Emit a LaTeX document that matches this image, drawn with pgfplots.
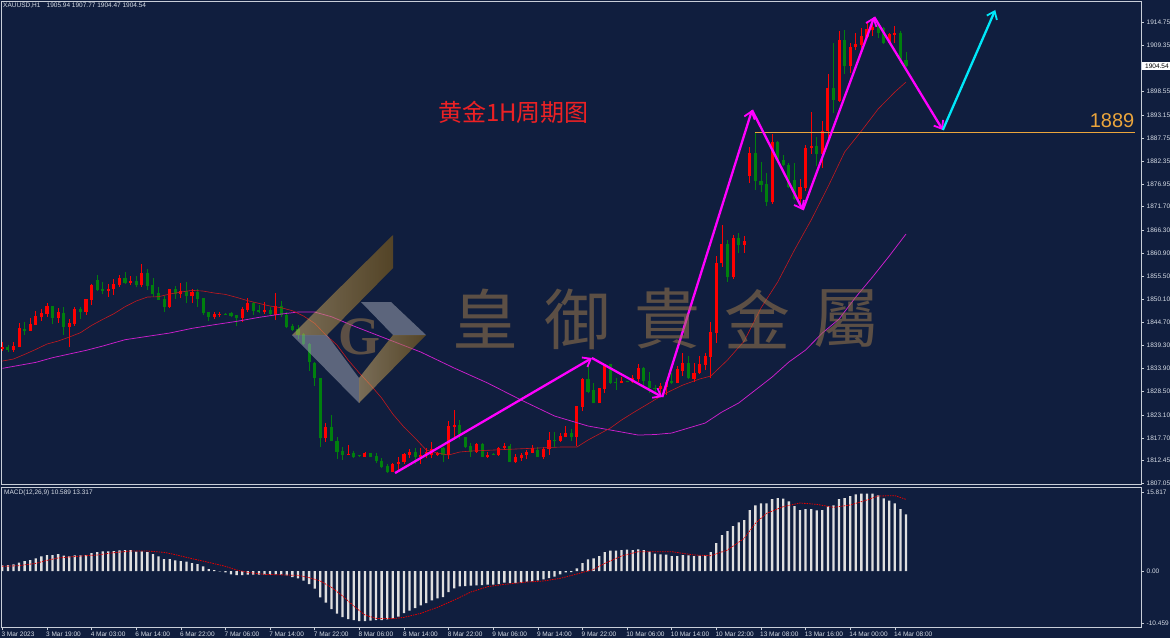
\documentclass[border=0pt]{standalone}
\usepackage{fontspec}
\usepackage{pgfplots}
\usepackage{pgfplotstable}
\pgfplotsset{compat=1.18}
\usetikzlibrary{arrows.meta}
\setmainfont{Liberation Sans}
\newfontfamily\cjksc{Noto Sans CJK SC}
\newfontfamily\cjktc{Noto Sans CJK TC}
\newfontfamily\serifb{Liberation Serif}
\definecolor{bgnavy}{RGB}{16,30,62}
\definecolor{frameg}{RGB}{200,206,216}
\definecolor{txtg}{RGB}{214,220,230}
\definecolor{upc}{RGB}{255,0,0}
\definecolor{dnc}{RGB}{0,128,14}
\definecolor{maR}{RGB}{196,24,30}
\definecolor{maP}{RGB}{205,30,205}
\definecolor{arrM}{RGB}{255,0,255}
\definecolor{arrC}{RGB}{0,232,250}
\definecolor{lev}{RGB}{235,165,60}
\definecolor{wmt}{RGB}{155,121,75}
\definecolor{wmb}{RGB}{155,161,175}
\definecolor{wmg1}{RGB}{209,175,109}
\definecolor{wmg2}{RGB}{140,100,20}
\pgfplotstableread{
i h l o c
0 1840.18 1838.08 1838.47 1838.94
2 1840.03 1837.85 1838.24 1839.09
3 1844.47 1838.86 1838.86 1843.30
5 1845.63 1842.67 1842.67 1844.31
6 1847.34 1844.07 1844.07 1846.18
7 1847.81 1845.01 1845.94 1846.88
8 1849.29 1846.02 1846.57 1848.51
10 1847.97 1844.62 1845.71 1847.11
12 1845.40 1838.86 1843.61 1844.54
13 1848.36 1843.84 1844.31 1847.81
15 1850.14 1846.41 1847.19 1850.14
16 1853.65 1848.74 1849.91 1853.41
19 1853.65 1850.69 1852.01 1852.48
20 1854.74 1851.08 1852.40 1853.65
21 1855.75 1853.02 1853.41 1855.05
23 1855.52 1853.41 1853.96 1854.35
25 1858.32 1853.02 1853.41 1856.21
30 1852.48 1847.97 1848.28 1852.48
32 1853.88 1850.30 1851.31 1851.94
34 1852.48 1849.29 1850.85 1851.78
38 1847.19 1845.55 1845.94 1846.64
39 1847.19 1845.87 1846.41 1846.64
43 1848.36 1844.85 1845.71 1847.73
44 1850.46 1847.19 1847.58 1849.13
47 1849.52 1846.64 1847.11 1847.58
49 1851.62 1845.24 1846.41 1848.51
58 1821.12 1816.84 1817.62 1820.18
62 1816.06 1813.64 1813.72 1813.96
65 1814.50 1813.18 1813.33 1814.19
70 1811.93 1809.83 1809.83 1811.70
71 1813.18 1810.06 1811.62 1812.17
72 1814.11 1811.62 1812.09 1813.96
73 1815.12 1812.94 1813.80 1814.34
75 1815.28 1811.62 1813.18 1813.80
76 1815.28 1812.94 1813.72 1814.34
77 1816.76 1812.94 1813.80 1815.05
78 1814.50 1813.49 1813.72 1814.11
80 1821.66 1812.71 1813.64 1820.49
81 1824.23 1817.22 1820.26 1820.65
85 1816.60 1814.27 1814.42 1816.37
87 1814.50 1813.10 1813.26 1813.80
89 1815.67 1813.57 1813.72 1815.28
90 1816.45 1814.89 1815.28 1815.82
92 1813.96 1811.85 1812.17 1813.18
93 1814.11 1812.40 1812.94 1813.72
94 1814.89 1812.71 1813.64 1814.42
95 1816.06 1814.11 1814.27 1815.28
97 1815.67 1812.71 1813.18 1815.20
98 1819.17 1813.72 1815.20 1817.22
100 1818.78 1816.76 1816.99 1818.16
101 1820.49 1817.85 1818.00 1818.78
103 1825.24 1815.82 1818.00 1825.24
104 1831.62 1823.92 1825.01 1831.46
107 1829.44 1825.78 1825.78 1829.29
108 1834.97 1828.12 1829.13 1834.97
111 1832.01 1830.45 1830.45 1831.00
113 1832.40 1830.46 1830.69 1831.63
114 1834.97 1830.85 1831.39 1834.04
118 1830.46 1827.73 1829.06 1829.84
119 1831.24 1827.73 1829.68 1830.85
121 1834.50 1830.46 1830.61 1833.73
122 1837.46 1832.17 1833.34 1835.13
124 1835.13 1830.85 1831.55 1832.87
125 1836.92 1832.64 1832.79 1834.97
126 1837.46 1833.57 1834.82 1836.84
127 1844.86 1831.63 1836.68 1842.44
128 1860.19 1839.95 1842.29 1858.47
129 1867.42 1857.70 1858.47 1862.99
131 1865.09 1854.82 1855.21 1864.31
133 1864.86 1860.96 1862.83 1863.77
134 1885.72 1877.31 1878.87 1884.32
138 1888.68 1872.33 1872.80 1886.81
143 1878.09 1871.56 1873.42 1876.23
144 1886.11 1875.45 1876.07 1885.41
145 1893.89 1884.01 1885.41 1885.88
147 1891.79 1880.82 1884.01 1889.45
148 1902.68 1886.89 1889.45 1899.34
150 1912.72 1896.22 1896.46 1910.62
152 1909.84 1903.00 1904.63 1909.07
153 1912.18 1908.29 1908.91 1909.69
154 1913.35 1908.68 1909.45 1911.56
155 1914.51 1911.01 1911.40 1913.19
156 1915.29 1911.56 1912.96 1913.73
159 1912.18 1909.69 1909.84 1912.02
160 1913.97 1909.84 1911.87 1912.33
}\redc
\pgfplotstableread{
i h l o c
1 1839.41 1837.85 1838.94 1838.24
4 1844.70 1841.74 1843.14 1842.67
9 1848.59 1844.31 1848.51 1845.71
11 1848.20 1841.74 1846.88 1843.61
14 1848.20 1845.48 1847.81 1847.11
17 1855.75 1852.01 1854.66 1852.25
18 1854.11 1851.23 1852.48 1852.09
22 1856.37 1853.57 1855.05 1853.88
24 1855.52 1852.87 1854.35 1853.34
26 1857.15 1852.25 1856.21 1853.18
27 1854.97 1850.69 1853.41 1851.23
28 1853.02 1849.91 1851.47 1849.91
29 1850.85 1847.19 1850.14 1848.28
31 1853.10 1850.14 1852.48 1851.31
33 1854.04 1849.13 1852.01 1850.85
35 1852.40 1848.36 1851.78 1850.14
36 1850.46 1846.41 1850.30 1846.88
37 1847.19 1844.93 1847.11 1845.94
40 1846.80 1846.41 1846.72 1846.41
41 1847.03 1845.87 1846.88 1846.18
42 1846.41 1843.92 1846.41 1845.63
45 1849.52 1846.41 1849.13 1847.34
46 1848.74 1846.80 1847.58 1847.11
48 1848.36 1846.41 1847.58 1846.64
50 1849.60 1845.87 1848.43 1846.41
51 1847.19 1843.30 1846.41 1843.61
52 1844.23 1842.67 1843.84 1842.91
53 1844.07 1840.73 1843.06 1841.74
54 1842.13 1839.41 1841.97 1839.64
55 1839.80 1833.41 1839.64 1835.44
56 1835.51 1829.83 1835.28 1831.62
57 1831.70 1815.67 1831.70 1817.62
59 1823.06 1817.07 1820.18 1817.07
60 1818.00 1812.79 1817.07 1814.50
61 1815.67 1812.55 1814.66 1813.72
63 1814.66 1813.10 1814.19 1813.18
64 1813.80 1813.33 1813.72 1813.41
66 1814.27 1813.18 1814.19 1813.33
67 1814.11 1811.78 1813.41 1812.24
68 1813.10 1810.61 1812.32 1810.92
69 1811.54 1809.60 1811.08 1809.75
74 1815.28 1811.62 1814.42 1813.18
79 1815.67 1812.17 1815.28 1813.72
82 1821.89 1817.38 1820.73 1818.39
83 1818.00 1815.28 1817.92 1815.51
84 1816.45 1813.33 1815.82 1814.42
86 1816.45 1813.18 1816.37 1813.33
88 1814.11 1813.72 1813.88 1813.72
91 1816.29 1812.09 1815.82 1812.17
96 1815.67 1813.18 1814.97 1813.33
99 1819.01 1815.67 1817.22 1816.91
102 1819.71 1816.99 1818.78 1817.92
105 1835.12 1828.12 1831.39 1828.51
106 1830.45 1825.78 1828.82 1825.78
109 1834.97 1830.30 1834.97 1830.45
110 1831.62 1828.90 1830.84 1830.76
112 1831.08 1830.69 1831.00 1830.84
115 1834.35 1830.07 1834.04 1830.93
116 1833.18 1828.12 1831.00 1829.29
117 1830.07 1828.51 1829.29 1829.06
120 1832.79 1830.23 1831.08 1830.61
123 1836.92 1831.47 1835.13 1831.63
130 1863.92 1854.19 1862.99 1855.36
132 1865.48 1860.81 1864.31 1862.75
135 1889.22 1875.60 1884.32 1877.70
136 1882.06 1875.06 1877.70 1876.85
137 1879.65 1871.94 1877.00 1872.80
139 1886.96 1881.83 1886.81 1882.45
140 1883.77 1881.28 1882.53 1881.44
141 1881.83 1875.99 1881.44 1876.38
142 1881.98 1873.27 1877.94 1873.42
146 1888.05 1881.28 1885.95 1884.01
149 1909.84 1893.50 1899.34 1896.61
151 1912.96 1902.68 1910.62 1904.63
157 1914.36 1911.01 1914.12 1912.18
158 1913.73 1909.69 1913.42 1909.84
161 1912.72 1905.17 1912.33 1905.80
162 1907.90 1904.40 1905.95 1904.54
}\greenc
\pgfplotsset{
  wick/.style={draw=none,mark=none,forget plot,error bars/.cd,y dir=plus,y explicit,error mark=none,error bar style={draw=#1,line width=0.8pt,color=#1}},
  body/.style={draw=none,mark=none,forget plot,error bars/.cd,y dir=plus,y explicit,error mark=none,error bar style={draw=#1,line width=3.1pt,color=#1}},
  panel/.style={scale only axis,xmin=-0.238,xmax=204.13,axis line style={draw=frameg,line width=0.8pt},
    tick style={color=frameg,line width=0.6pt},tick align=outside,major tick length=3pt,
    ytick pos=right,yticklabel pos=right,
    yticklabel style={font=\fontsize{6.5}{7}\selectfont,color=txtg,inner sep=0pt,anchor=west,xshift=2.5pt},
    xticklabel style={font=\fontsize{6.5}{7}\selectfont,color=txtg,inner sep=0pt}},
}
\begin{document}
\begin{tikzpicture}[x=1pt,y=1pt]
\path[use as bounding box] (0,0) rectangle (1170,-638);
\clip (0,0) rectangle (1170,-638);
\fill[bgnavy] (0,0) rectangle (1170,-638);
\begin{axis}[panel,at={(1pt,-484pt)},anchor=south west,width=1140pt,height=483pt,
  ymin=1806.96,ymax=1919.73,xtick=\empty,
  ytick={1807.05,1812.45,1817.70,1823.10,1828.50,1833.90,1839.30,1844.70,1850.10,1855.50,1860.90,1866.30,1871.70,1876.95,1882.35,1887.75,1893.15,1898.55,1903.95,1909.35,1914.75},
  yticklabels={1807.05,1812.45,1817.70,1823.10,1828.50,1833.90,1839.30,1844.70,1850.10,1855.50,1860.90,1866.30,1871.70,1876.95,1882.35,1887.75,1893.15,1898.55,,1909.35,1914.75}]
\addplot[wick=upc] table[x=i,y=l,y error expr=\thisrow{h}-\thisrow{l}]{\redc};
\addplot[wick=dnc] table[x=i,y=l,y error expr=\thisrow{h}-\thisrow{l}]{\greenc};
\addplot[body=upc] table[x=i,y=o,y error expr=\thisrow{c}-\thisrow{o}]{\redc};
\addplot[body=dnc] table[x=i,y=c,y error expr=\thisrow{o}-\thisrow{c}]{\greenc};
% purple moving average
\addplot[maP,line width=0.75pt] coordinates {(0,1833.96)(3,1834.66)(6,1835.36)(9,1836.45)(12,1837.31)(15,1838.16)(18,1839.17)(22,1840.65)(26,1841.43)(30,1842.21)(34,1843.30)(38,1844.15)(42,1844.93)(46,1845.87)(50,1846.64)(53,1847.11)(56,1847.11)(59,1846.02)(63,1843.84)(69,1840.81)(75,1837.78)(81,1834.04)(87,1830.54)(93,1826.57)(99,1822.83)(105,1820.50)(111,1819.10)(114,1818.39)(117,1818.51)(120,1818.86)(123,1820.03)(126,1821.20)(129,1823.77)(132,1825.87)(135,1828.90)(138,1831.94)(141,1835.44)(144,1838.24)(147,1842.21)(150,1845.48)(153,1850.62)(156,1855.29)(159,1860.19)(162,1865.33)};
% red moving average
\addplot[maR,line width=0.6pt] coordinates {(0,1835.67)(2,1836.14)(4,1837.23)(6,1838.39)(8,1839.64)(10,1840.34)(12,1841.27)(14,1842.29)(16,1843.99)(18,1845.40)(20,1846.72)(22,1848.36)(24,1849.68)(26,1850.61)(28,1850.69)(30,1851.31)(32,1851.78)(34,1852.17)(36,1852.01)(38,1851.55)(40,1851.23)(42,1850.53)(44,1849.76)(46,1849.13)(48,1848.51)(50,1848.12)(52,1847.42)(54,1846.18)(56,1844.47)(58,1841.74)(60,1839.41)(62,1835.91)(64,1832.87)(66,1830.07)(68,1827.04)(70,1823.30)(72,1820.26)(74,1817.69)(76,1814.89)(78,1814.19)(80,1813.73)(82,1814.43)(84,1814.66)(88,1814.89)(92,1815.13)(96,1815.36)(100,1815.59)(103,1815.59)(105,1817.23)(107,1818.63)(109,1820.03)(111,1821.90)(113,1823.53)(116,1825.87)(119,1828.20)(122,1830.07)(125,1831.47)(127,1832.17)(130,1835.91)(133,1840.34)(136,1848.05)(139,1854.12)(142,1861.59)(145,1868.60)(148,1876.30)(151,1884.47)(154,1889.37)(157,1894.51)(160,1898.48)(162,1900.81)};
% level
\addplot[lev,line width=1pt] coordinates {(134.9,1889.14)(203.1,1889.14)};
% arrows
\addplot[arrM,line width=2.3pt,-{Straight Barb[length=7pt,width=11pt,line width=1.8pt]}] coordinates {(70.4,1809.52)(105.7,1836.38)};
\addplot[arrM,line width=2.3pt,-{Straight Barb[length=7pt,width=11pt,line width=1.8pt]}] coordinates {(105.7,1836.38)(118.3,1827.27)};
\addplot[arrM,line width=2.3pt,-{Straight Barb[length=7pt,width=11pt,line width=1.8pt]}] coordinates {(118.3,1827.27)(134.4,1894.28)};
\addplot[arrM,line width=2.3pt,-{Straight Barb[length=7pt,width=11pt,line width=1.8pt]}] coordinates {(134.4,1894.28)(143.5,1870.93)};
\addplot[arrM,line width=2.3pt,-{Straight Barb[length=7pt,width=11pt,line width=1.8pt]}] coordinates {(143.5,1870.93)(156.3,1915.99)};
\addplot[arrM,line width=2.3pt,-{Straight Barb[length=7pt,width=11pt,line width=1.8pt]}] coordinates {(156.3,1915.99)(168.6,1889.61)};
\addplot[arrC,line width=2.3pt,-{Straight Barb[length=7pt,width=11pt,line width=1.8pt]}] coordinates {(168.6,1889.61)(178,1917.63)};
\end{axis}
\begin{axis}[panel,at={(1pt,-627.3pt)},anchor=south west,width=1140pt,height=140.3pt,
  ymin=-11.26,ymax=16.8,ytick={-10.459,0,15.817},yticklabels={-10.459,0.00,15.817},
  xtick pos=bottom,xtick={0,8,...,160},
  xticklabel style={anchor=north west,xshift=-1pt,yshift=-1pt},
  xticklabels={3 Mar 2023,3 Mar 19:00,4 Mar 03:00,6 Mar 14:00,6 Mar 22:00,7 Mar 06:00,7 Mar 14:00,7 Mar 22:00,8 Mar 06:00,8 Mar 14:00,8 Mar 22:00,9 Mar 06:00,9 Mar 14:00,9 Mar 22:00,10 Mar 06:00,10 Mar 14:00,10 Mar 22:00,13 Mar 08:00,13 Mar 16:00,14 Mar 00:00,14 Mar 08:00}]
\addplot[ybar,bar width=2.3pt,bar shift=0pt,fill=white!87!black,draw=none] coordinates {(0,1.13)(1,1.2)(2,1.33)(3,1.67)(4,2.0)(5,2.2)(6,2.53)(7,2.93)(8,3.2)(9,3.2)(10,3.4)(11,3.07)(12,2.93)(13,3.13)(14,3.13)(15,3.2)(16,3.6)(17,3.8)(18,3.93)(19,3.93)(20,4.0)(21,4.13)(22,4.2)(23,4.2)(24,3.87)(25,3.93)(26,3.8)(27,3.4)(28,2.93)(29,2.4)(30,2.4)(31,2.13)(32,2.0)(33,1.87)(34,1.6)(35,1.4)(36,.93)(37,.4)(38,.2)(39,-.07)(40,-.27)(41,-.67)(42,-.8)(43,-.8)(44,-.73)(45,-.73)(46,-.73)(47,-.73)(48,-.73)(49,-.67)(50,-.73)(51,-.87)(52,-1.2)(53,-1.47)(54,-1.93)(55,-2.6)(56,-3.53)(57,-5.27)(58,-6.33)(59,-7.6)(60,-8.53)(61,-9.2)(62,-9.6)(63,-9.8)(64,-10.0)(65,-10.0)(66,-9.93)(67,-9.8)(68,-9.8)(69,-9.67)(70,-9.47)(71,-9.13)(72,-8.4)(73,-7.93)(74,-7.4)(75,-6.87)(76,-6.4)(77,-5.87)(78,-5.47)(79,-5.2)(80,-4.2)(81,-3.47)(82,-3.07)(83,-3.0)(84,-2.93)(85,-2.87)(86,-2.8)(87,-2.73)(88,-2.73)(89,-2.6)(90,-2.33)(91,-2.4)(92,-2.4)(93,-2.33)(94,-2.13)(95,-2.07)(96,-1.87)(97,-1.67)(98,-1.4)(99,-1.13)(100,-.67)(101,-.27)(102,-.2)(103,.53)(104,1.6)(105,2.33)(106,2.53)(107,3.0)(108,3.8)(109,4.07)(110,4.07)(111,4.2)(112,4.27)(113,4.2)(114,4.33)(115,4.2)(116,3.87)(117,3.47)(118,3.33)(119,3.27)(120,3.0)(121,3.0)(122,3.2)(123,3.13)(124,3.0)(125,3.07)(126,3.2)(127,3.8)(128,5.6)(129,7.2)(130,8.0)(131,9.0)(132,9.73)(133,10.2)(134,12.2)(135,13.13)(136,13.53)(137,13.53)(138,14.4)(139,14.6)(140,14.47)(141,13.93)(142,13.0)(143,12.2)(144,12.4)(145,12.4)(146,12.13)(147,12.2)(148,12.93)(149,13.13)(150,14.4)(151,14.6)(152,15.0)(153,15.33)(154,15.47)(155,15.47)(156,15.47)(157,15.13)(158,14.53)(159,14.07)(160,13.53)(161,12.4)(162,11.33)};
\addplot[upc!90!black,line width=0.8pt,dash pattern=on 1.5pt off 1pt] coordinates {(0,.93)(3,1.07)(6,1.53)(8,2.13)(10,2.6)(12,2.8)(15,3.07)(17,3.2)(20,3.67)(23,4.0)(26,4.0)(29,3.73)(31,3.27)(34,2.47)(37,1.73)(40,.93)(42,.2)(44,-.27)(47,-.67)(51,-.8)(53,-.87)(55,-1.33)(57,-2.0)(59,-3.27)(61,-5.0)(63,-7.0)(65,-8.8)(67,-9.47)(70,-9.53)(72,-9.27)(75,-8.47)(78,-7.27)(81,-5.8)(84,-4.2)(87,-3.13)(90,-2.67)(94,-2.2)(97,-2.0)(100,-1.47)(103,-.6)(106,.33)(108,1.53)(111,3.0)(114,3.87)(120,3.87)(124,3.2)(127,3.07)(130,4.2)(133,6.53)(135,9.53)(137,11.53)(140,12.87)(143,13.6)(146,13.33)(149,12.73)(152,13.2)(155,14.2)(157,15.0)(160,15.07)(162,14.33)};
\end{axis}
% texts
\node[anchor=west,inner sep=0,font=\fontsize{6.5}{7}\selectfont,text=txtg] at (3,-5.5) {XAUUSD,H1};
\node[anchor=west,inner sep=0,font=\fontsize{6.5}{7}\selectfont,text=txtg] at (46.5,-5.5) {1905.94 1907.77 1904.47 1904.54};
\node[anchor=west,inner sep=0,font=\fontsize{6.5}{7}\selectfont,text=txtg] at (4,-492.5) {MACD(12,26,9) 10.589 13.317};
\fill[white] (1142,-62.3) rectangle (1170,-69.5);
\node[anchor=west,inner sep=0,font=\fontsize{6.5}{7}\selectfont,text=black] at (1145,-66) {1904.54};
\node[anchor=west,inner sep=0,font=\cjksc\fontsize{24}{26}\selectfont,text={rgb,255:red,237;green,33;blue,36}] at (438,-112) {黄金1H周期图};
\node[anchor=east,inner sep=0,font=\fontsize{20}{22}\selectfont,text=lev] at (1134.5,-121) {1889};
% watermark
\fill[wmb,opacity=.55] (292,-335) -- (327,-335) -- (359,-378) -- (359,-403) -- cycle;
\fill[wmb,opacity=.55] (361,-302) -- (391,-302) -- (426,-335) -- (393,-335) -- cycle;
\path[left color=wmg1,right color=wmg2,opacity=.55] (292,-335) -- (393,-235) -- (393,-268) -- (327,-335) -- cycle;
\path[left color=wmg1,right color=wmg2,opacity=.55] (359,-403) -- (426,-335) -- (393,-335) -- (359,-378) -- cycle;
\node[inner sep=0,opacity=.55,text=wmt,font=\serifb\bfseries\fontsize{54}{56}\selectfont] at (359,-337) {G};
\foreach \ch/\xx in {皇/485,御/577,貴/667,金/757,屬/846}{
  \node[inner sep=0,opacity=.55,text=wmt,font=\cjktc\fontsize{66}{70}\selectfont] at (\xx,-319) {\ch};
}
\end{tikzpicture}
\end{document}
